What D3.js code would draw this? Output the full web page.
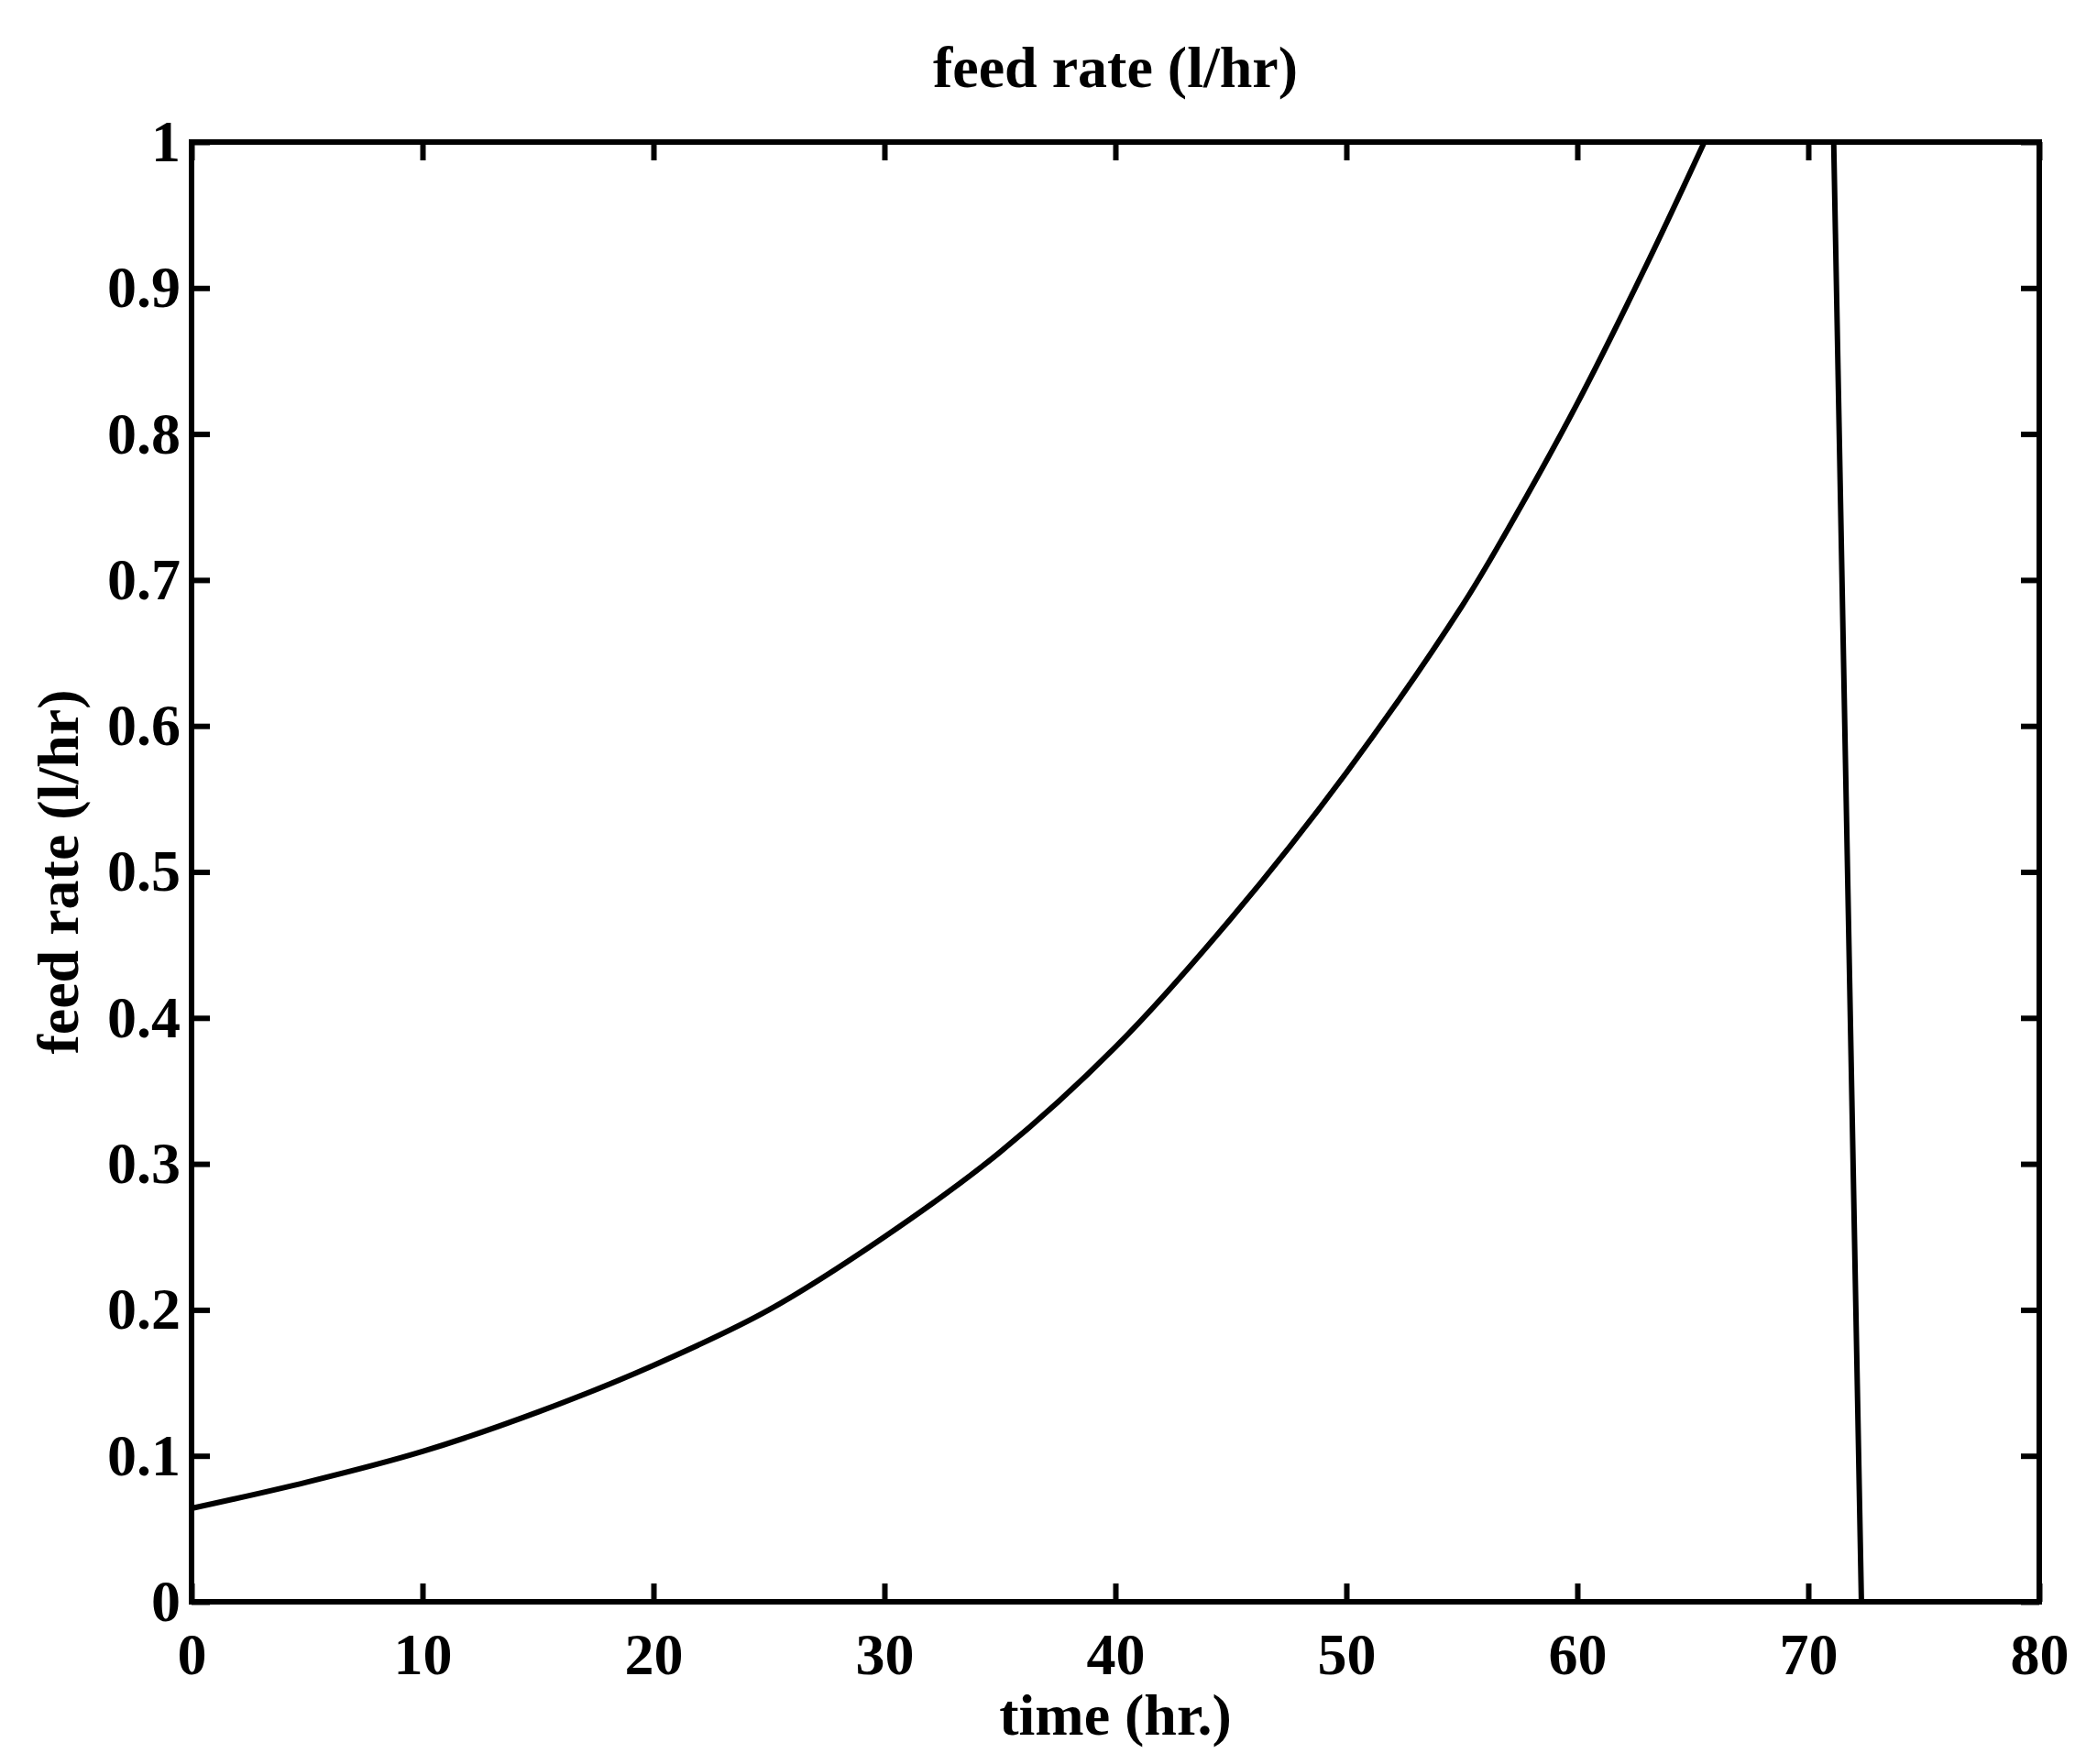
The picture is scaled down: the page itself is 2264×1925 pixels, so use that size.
<!DOCTYPE html>
<html>
<head>
<meta charset="utf-8">
<script src="https://cdn.jsdelivr.net/npm/d3@7"></script>
<style>
  html, body { margin: 0; padding: 0; background: #fff; }
  svg { display: block; }
  text { font-family: "Liberation Serif", "DejaVu Serif", serif; fill: #000; }
</style>
</head>
<body>
<script>
// ---- data ----
const timeHr   = [0, 5, 10, 15, 20, 25, 30, 35, 40, 45, 50, 55, 57, 60, 63, 65.5, 71.1, 72.3, 80];
const feedRate = [0.064, 0.082, 0.103, 0.130, 0.162, 0.200, 0.250, 0.308, 0.380, 0.468, 0.568, 0.682, 0.735, 0.821, 0.916, 1.0, 1.0, 0, 0];
const xTicks = [0, 10, 20, 30, 40, 50, 60, 70, 80];
const yTicks = [0, 0.1, 0.2, 0.3, 0.4, 0.5, 0.6, 0.7, 0.8, 0.9, 1];
const yTickLabels = ["0", "0.1", "0.2", "0.3", "0.4", "0.5", "0.6", "0.7", "0.8", "0.9", "1"];
const titleText = "feed rate (l/hr)";
const xLabel = "time (hr.)";
const yLabel = "feed rate (l/hr)";

// ---- layout ----
const W = 2264, H = 1925;
const m = { left: 209, right: W - 2225, top: 155, bottom: H - 1748 };

const svg = d3.select("body").append("svg").attr("width", W).attr("height", H);

const x = d3.scaleLinear().domain([0, 80]).range([m.left, W - m.right]);
const y = d3.scaleLinear().domain([0, 1]).range([H - m.bottom, m.top]);

const tickLen = 20;
const fontSize = 64;

// bottom axis (ticks inward)
const gx = svg.append("g").attr("transform", `translate(0,${y(0)})`)
  .call(d3.axisBottom(x).tickValues(xTicks).tickSize(-tickLen).tickPadding(34).tickFormat(d3.format("d")));
// top axis ticks
const gxt = svg.append("g").attr("transform", `translate(0,${y(1)})`)
  .call(d3.axisTop(x).tickValues(xTicks).tickSize(-tickLen).tickFormat(""));
// left axis
const gy = svg.append("g").attr("transform", `translate(${x(0)},0)`)
  .call(d3.axisLeft(y).tickValues(yTicks).tickSize(-tickLen).tickPadding(12)
    .tickFormat((d, i) => yTickLabels[i]));
// right axis ticks
const gyr = svg.append("g").attr("transform", `translate(${x(80)},0)`)
  .call(d3.axisRight(y).tickValues(yTicks).tickSize(-tickLen).tickFormat(""));

[gx, gxt, gy, gyr].forEach(g => {
  g.select(".domain").remove();
  g.selectAll(".tick line").attr("stroke", "#000").attr("stroke-width", 6);
  g.selectAll(".tick text").attr("font-size", fontSize).attr("font-weight", "bold").attr("fill", "#000");
});
gx.selectAll(".tick text").attr("dy", "0.71em");

// box
svg.append("rect")
  .attr("x", x(0)).attr("y", y(1))
  .attr("width", x(80) - x(0)).attr("height", y(0) - y(1))
  .attr("fill", "none").attr("stroke", "#000").attr("stroke-width", 6);

// smooth rising part, then straight segments for plateau / drop / zero
const nSmooth = timeHr.indexOf(65.5) + 1;
svg.append("path")
  .attr("d", d3.line().x(i => x(timeHr[i])).y(i => y(feedRate[i])).curve(d3.curveCatmullRom.alpha(0.5))(d3.range(nSmooth)))
  .attr("fill", "none").attr("stroke", "#000").attr("stroke-width", 6);
svg.append("path")
  .attr("d", d3.line().x(i => x(timeHr[i])).y(i => y(feedRate[i]))(d3.range(nSmooth - 1, timeHr.length)))
  .attr("fill", "none").attr("stroke", "#000").attr("stroke-width", 6);

// title
svg.append("text")
  .attr("x", (x(0) + x(80)) / 2).attr("y", 95)
  .attr("text-anchor", "middle").attr("font-size", fontSize).attr("font-weight", "bold")
  .text(titleText);

// x label
svg.append("text")
  .attr("x", (x(0) + x(80)) / 2).attr("y", 1893)
  .attr("text-anchor", "middle").attr("font-size", fontSize).attr("font-weight", "bold")
  .text(xLabel);

// y label
svg.append("text")
  .attr("transform", `translate(85,${(y(0) + y(1)) / 2}) rotate(-90)`)
  .attr("text-anchor", "middle").attr("font-size", fontSize).attr("font-weight", "bold")
  .text(yLabel);
</script>
</body>
</html>
